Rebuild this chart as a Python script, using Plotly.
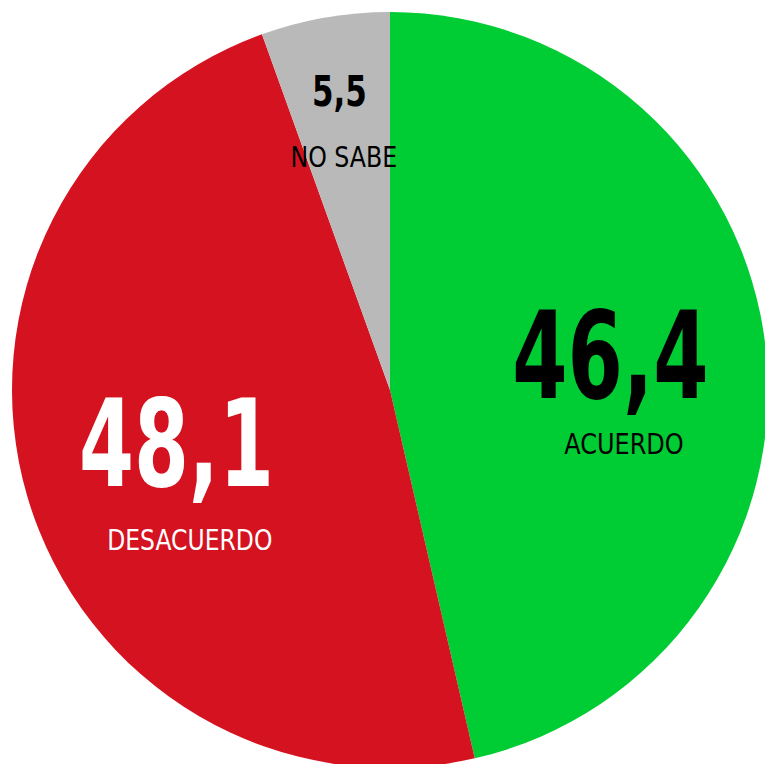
import plotly.graph_objects as go

# Data
categories = ["ACUERDO", "DESACUERDO", "NO SABE"]
values = [46.4, 48.1, 5.5]

# Styling
colors = ["#00CC33", "#D5121F", "#B9B9B9"]
num_colors = ["#000000", "#FFFFFF", "#000000"]
W, H = 800, 800

# label positions in pixels (centre of number, centre of caption) and sizes
num_pos = [(610, 356), (176, 444), (339, 91)]
cap_pos = [(624, 444), (190, 540), (344, 157)]
num_size = [122, 122, 42]
cap_size = [29, 29, 28]
# horizontal condensing of each annotation (number, caption per category)
stretch = [0.725, 0.92, 0.72, 0.90, 0.82, 0.94]

fig = go.Figure(go.Pie(
    labels=categories,
    values=values,
    sort=False,
    direction="clockwise",
    rotation=0,
    marker=dict(colors=colors, line=dict(width=0)),
    textinfo="none",
    hoverinfo="label+value",
    showlegend=False,
    domain=dict(x=[12 / W, 768 / W], y=[1 - 768 / H, 1 - 12 / H]),
))

font_fam = "Liberation Sans Narrow, DejaVu Sans Condensed, Arial Narrow, sans-serif"
annotations = []
for i, (cat, v) in enumerate(zip(categories, values)):
    nx, ny = num_pos[i]
    cx, cy = cap_pos[i]
    annotations.append(dict(
        x=nx / W, y=1 - ny / H, xref="paper", yref="paper",
        text="<b>" + f"{v:.1f}".replace(".", ",") + "</b>",
        showarrow=False, xanchor="center", yanchor="middle",
        font=dict(family=font_fam, size=num_size[i], color=num_colors[i]),
    ))
    annotations.append(dict(
        x=cx / W, y=1 - cy / H, xref="paper", yref="paper",
        text=cat, showarrow=False, xanchor="center", yanchor="middle",
        font=dict(family=font_fam, size=cap_size[i], color=num_colors[i]),
    ))

fig.update_layout(
    width=W, height=H,
    margin=dict(l=0, r=0, t=0, b=0),
    paper_bgcolor="white", plot_bgcolor="white",
    annotations=annotations,
)

post = """
document.body.style.margin='0';
document.body.style.overflow='hidden';
document.documentElement.style.overflow='hidden';
var s = %s;
var gd = document.getElementById('{plot_id}');
gd.querySelectorAll('g.annotation').forEach(function(g){
  var i = +g.getAttribute('data-index');
  var t = g.querySelector('text');
  if (t && s[i] !== undefined) {
    t.style.transformBox = 'fill-box';
    t.style.transformOrigin = 'center';
    t.style.transform = 'scaleX(' + s[i] + ')';
  }
});
""" % str(stretch)

fig.write_html("out.html", post_script=post, config={"displayModeBar": False})
